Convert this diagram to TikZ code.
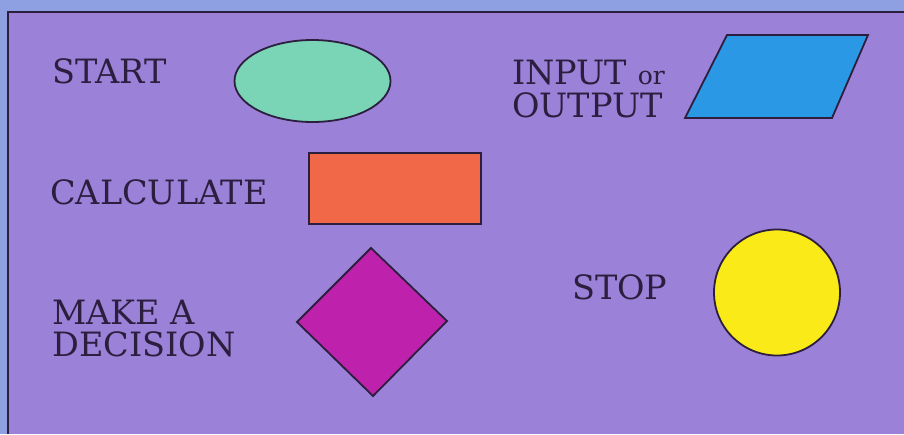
\documentclass[tikz,border=0pt]{standalone}
\usepackage{fontspec}
\setmainfont{DejaVu Serif}
\definecolor{bgpurple}{RGB}{156,129,216}
\definecolor{bandblue}{RGB}{142,160,226}
\definecolor{ink}{RGB}{44,30,62}
\definecolor{mint}{RGB}{122,212,182}
\definecolor{skyblue}{RGB}{42,152,228}
\definecolor{coral}{RGB}{240,104,72}
\definecolor{magentaf}{RGB}{190,34,172}
\definecolor{yellowf}{RGB}{250,234,24}
\tikzset{
  label text/.style={anchor=base west, inner sep=0pt, text=ink, font=\fontsize{33.5}{33.5}\selectfont},
  shapeline/.style={draw=ink, line width=1.8pt, line join=miter}
}
\begin{document}
\begin{tikzpicture}[x=1pt,y=-1pt]
\useasboundingbox (0,0) rectangle (904,434);
\fill[bandblue] (0,0) rectangle (904,434);
\fill[bgpurple] (8,12) rectangle (904,434);
\draw[ink, line width=1.3pt] (8,434) -- (8,12) -- (904,12);
% shapes
\draw[shapeline, fill=mint] (312.5,81) ellipse [x radius=78, y radius=41];
\draw[shapeline, fill=skyblue] (727,35) -- (868,35) -- (832,118) -- (685,118) -- cycle;
\draw[shapeline, fill=coral] (309,153) rectangle (481,224);
\draw[shapeline, fill=magentaf] (371,248) -- (447,321) -- (373,396) -- (297,322) -- cycle;
\draw[shapeline, fill=yellowf] (777,292.5) circle [radius=63];
% labels
\node[label text] (start) at (52,83) {START};
\node[label text] (calc) at (50,204) {CALCULATE};
\node[label text] (inp) at (512,84) {INPUT {\fontsize{25}{25}\selectfont or}};
\node[label text] (outp) at (512,117) {OUTPUT};
\node[label text] (stop) at (572,299) {STOP};
\node[label text] (make) at (52,324) {MAKE A};
\node[label text] (dec) at (52,356) {DECISION};
\end{tikzpicture}
\end{document}
